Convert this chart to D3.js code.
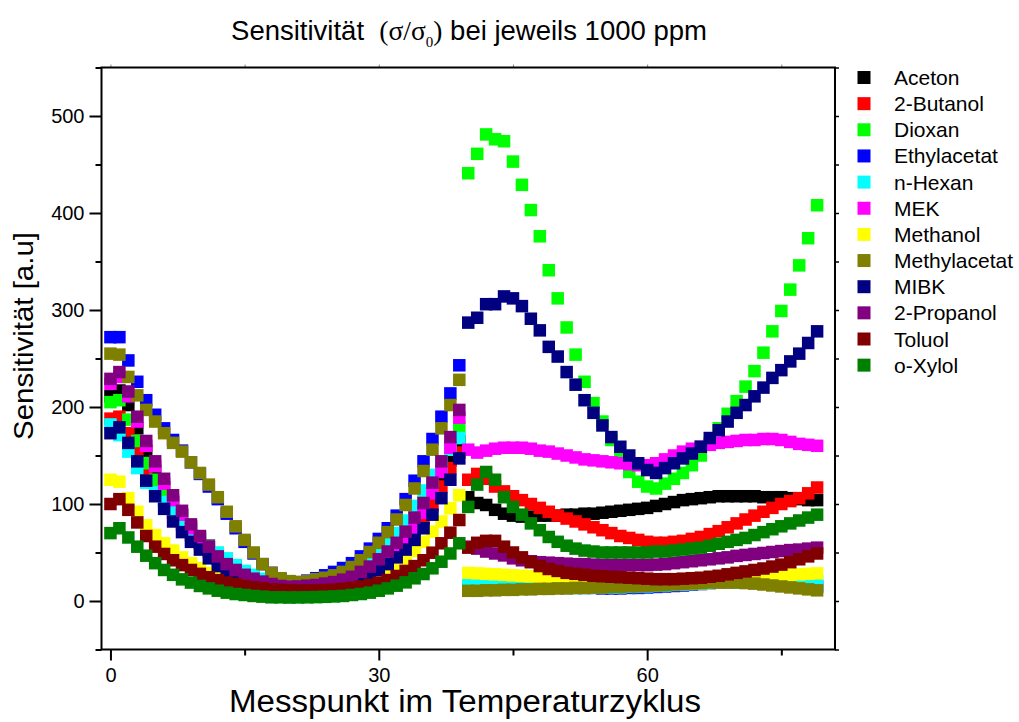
<!DOCTYPE html>
<html><head><meta charset="utf-8">
<script src="https://cdn.jsdelivr.net/npm/d3@7/dist/d3.min.js"></script>
<style>
body{margin:0;background:#fff}
svg{display:block}
text{font-family:"Liberation Sans",Arial,Helvetica,sans-serif;fill:#000}
</style>
</head><body>
<svg id="chart" width="1019" height="722"></svg>
<script>
// ---------- data ----------
const seriesNames = ["Aceton","2-Butanol","Dioxan","Ethylacetat","n-Hexan","MEK","Methanol","Methylacetat","MIBK","2-Propanol","Toluol","o-Xylol"];
const seriesColors = ["#000000","#ff0000","#00ff00","#0000ff","#00ffff","#ff00ff","#ffff00","#808000","#000080","#800080","#800000","#008000"];
const xTicksMajor = [0,30,60];
const xTicksMinor = [15,45,75];
const yTicksMajor = [0,100,200,300,400,500];
const yTicksMinor = [-50,50,150,250,350,450,550];

const aceton = [211,217,202,178,155,134,117,102,89,77, 66,57,49,42,36,30,26,22,19,17, 16,16,16.5,17.5,19,21,24,28,33,39, 46,54,63,73,85,98,112,126,145,165,
  107,101,99,94,90,88,87,87,88,88, 88,89,89,90,90,91,92,93,94,95, 96,98,100,102,104,105,106,107,108,108, 108,108,108,107,107,107,106,105,104,104];
const butanol2 = [188,190,173,153,135,119,104,91,79,68, 59,51,44,38,32,27,23,20,17.5,15.5, 14.5,14,14.5,15,16,17.5,19.5,22,26,30, 36,42,50,59,70,83,99,118,137,153,
  125,131,126,118,113,108,104,100,96,92, 88,85,82,79,76,73,70,67,65,63, 61,60,60,61,62,64,66,69,72,76, 80,84,88,92,96,100,103,106,111,117];
const dioxan = [205,207,187,165,142,125,110,97,85,74, 64,55,47,40,34,29,25,21,18,16, 15,15,16,17,19,22,25,29,34,40, 47,55,64,75,88,102,118,136,156,179,
  441,461,481,476,474,453,429,403,376,341, 312,282,254,226,204,185,166,149,133,123, 118,116,121,126,132,140,150,163,178,193, 206,221,237,256,278,299,321,346,374,408];
const ethylacetat = [272,272,248,226,207,192,178,166,155,143, 131,118,105,90,75,61,49,38,29,23, 20,19.5,21,23.5,26.5,30,34,39,46,54, 64,75,88,105,124,144,167,190,214,243,
  12,12,12.5,12.5,13,13,13,13.5,13.5,13.5, 13.5,13.5,13.5,13.5,13.5,13,13,13,13.5,13.5, 14,14.5,15,15.5,16,17,17.5,18.5,19,19.5, 19.5,19,18.5,18,17.5,17,16.5,16,15.5,15];
const nHexan = [182,171,154,137,122,112,102,93,83,73, 64,56,50,44,37,31,27,23,20,18, 17,17,18,20,22,25,29,33,38,44, 51,59,70,83,98,114,130,143,156,168,
  18,17.5,17,16.5,16,15.5,15,14.5,14,14, 13.5,13.5,13.5,13.5,14,14,14,14,14.5,14.5, 15,15.5,16,16.5,17,17.5,18,18.5,19,19, 19,19,19,19,19,19.5,19.5,20,20,20];
const mek = [224,231,211,185,160,139,121,104,89,75, 63,53,43,35,29,24,20,17.5,15,13.5, 12.5,12.5,13,14,15,16.5,18.5,21.5,26,31, 38,45,53,62,74,91,111,133,158,189,
  156,153,155,157,158,158,158,157,155,154, 152,150,148,146,145,144,143,142,141,140, 140,142,146,150,154,157,159,161,163,164, 165,166,166,167,167,166,164,162,161,160];
const methanol = [125,123,106,92,78,68,59.5,52,45,39, 34,29,25,22.5,20,17.5,15.5,14,12.5,11.5, 11,11,11.5,12,12.5,13.5,14.5,16,18,20, 24,29,35.5,43,51.5,61,71.5,82,95.5,109,
  29,28.5,28,27.5,27,26.5,26,25.5,25,24.5, 24,23,22,21,20,19,18.5,18,17.5,17, 17,17,17,17,17.5,18,18.5,19,19.5,20, 21,22,23,24,25,26,27,27.5,28,28.5];
const methylacetat = [255,254,231,212,197,185,173,163,154,143, 132,120,107,92,77,63,50,38,29,23.5, 20.5,19.5,20.5,22.5,24,26.5,30,35,42,50.5, 60,71,84,99,116,134,156,178,202,228,
  10.5,10.5,11,11,11.5,11.5,12,12,12.5,12.5, 13,13,13.5,13.5,14,14,14.5,14.5,15,15, 15.5,16,16.5,17,17.5,18,18.5,19,19,19, 19,18.5,18,17,16,15,14,13,12,11];
const mibk = [173,179,163,144,124,108,95,82,71,61, 53,44,36,29,24,20,17.5,15.5,14,13, 12.5,12.5,13,13.5,14.5,16,18,20,23.5,27, 32,38,45,53,63,75,89,106,125,147,
  287,292,306,306,314,312,304,291,279,262, 252,236,223,207,194,181,169,159,150,142, 135,132,137,142,147,152,159,168,176,185, 194,202,211,220,230,238,247,255,266,278];
const propanol2 = [229,236,216,190,165,144,126,109,93,79, 67,56,46,38,32,27,23,20,17.5,15.5, 14.7,15,15.8,16.5,18,19.5,22,25,30,35.5, 43,51,60,71.5,86,101,122,144,169,197,
  56,54,51,49,47,44,42,41,40,39.5, 39,38.5,38,38,37.5,37,37,37,37,37, 37,37.5,38,39,40,41,42,43,44,45, 46.5,47.5,48.5,49.5,50.5,51.5,52.5,53,54,55];
const toluol = [100,105,94,81,67,56,48.5,42,37,32, 28,24.5,21.5,19,17.5,15.5,14,13,12,11.5, 11,10.8,10.8,11,11.3,11.8,12.5,13.5,15,16.5, 19,21.6,25.8,31,36,42,49.8,59.5,70.4,83.5,
  55,60,62,62,56,50,45,40,36,33, 31,29,28,27,26,25.5,25,24.5,24,23.5, 23,22.5,22.5,22.5,23,23.5,24,25,26,27.5, 29,30.5,32,33.5,35.5,37.5,40,43,46,49];
const oXylol = [70,75,65.5,56,46.7,39,32,27,22.3,19, 15.5,13,10.6,8.6,7.2,6.2,5.2,4.5,3.8,3.8, 3.6,3.7,3.8,4,4.3,4.7,5.2,6.2,7.2,8.6, 10.6,13,15.8,19.2,23.4,27.8,33.7,40.5,49,59.5,
  97,120,133,125,107,97,89,80,73,66, 61,57,54,52,51,50,50,50,50,50, 50,51,51,52,53,54,55,57,59,61, 63,65,68,71,74,77,80,83,86,89];

const seriesValues = [aceton,butanol2,dioxan,ethylacetat,nHexan,mek,methanol,methylacetat,mibk,propanol2,toluol,oXylol];
const series = seriesNames.map((name,i)=>({name, color:seriesColors[i], values:seriesValues[i].map((v,j)=>({x:j,y:v}))}));

// ---------- layout ----------
const svg = d3.select("#chart");
const L = 101.5, R = 835, T = 67.5, B = 649.5;
const x = d3.scaleLinear().domain([-1,81]).range([L,R]);
const y = d3.scaleLinear().domain([-50,550]).range([B,T]);
const ms = 12.5;

// markers
const gData = svg.append("g");
series.forEach(s=>{
  gData.append("g").selectAll("rect").data(s.values).join("rect")
    .attr("x",d=>x(d.x)-ms/2).attr("y",d=>y(d.y)-ms/2)
    .attr("width",ms).attr("height",ms).attr("fill",s.color);
});

// axes
function styleAxis(g){ g.select(".domain").remove(); g.selectAll("line").attr("stroke","#000").attr("stroke-width",2); g.selectAll("text").style("font-size","20px").attr("font-family","Liberation Sans, Arial, sans-serif"); }
svg.append("g").attr("transform",`translate(0,${B})`)
  .call(d3.axisBottom(x).tickValues(xTicksMajor).tickSize(11).tickPadding(7).tickFormat(d3.format("d"))).call(styleAxis);
svg.append("g").attr("transform",`translate(0,${B})`)
  .call(d3.axisBottom(x).tickValues(xTicksMinor).tickSize(6).tickFormat("")).call(styleAxis);
svg.append("g").attr("transform",`translate(${L},0)`)
  .call(d3.axisLeft(y).tickValues(yTicksMajor).tickSize(12).tickPadding(5).tickFormat(d3.format("d"))).call(styleAxis);
svg.append("g").attr("transform",`translate(${L},0)`)
  .call(d3.axisLeft(y).tickValues(yTicksMinor).tickSize(6).tickFormat("")).call(styleAxis);
svg.append("g").attr("transform",`translate(0,${T})`)
  .call(d3.axisTop(x).tickValues(xTicksMajor.concat(xTicksMinor)).tickSize(3).tickFormat("")).call(g=>{g.select(".domain").remove(); g.selectAll("line").attr("stroke","#888").attr("stroke-width",1);});
svg.append("g").attr("transform",`translate(${R},0)`)
  .call(d3.axisRight(y).tickValues(yTicksMajor.concat(yTicksMinor)).tickSize(4).tickFormat("")).call(g=>{g.select(".domain").remove(); g.selectAll("line").attr("stroke","#000").attr("stroke-width",1.5);});

// frame
svg.append("rect").attr("x",L).attr("y",T).attr("width",R-L).attr("height",B-T)
  .attr("fill","none").attr("stroke","#000").attr("stroke-width",2);

// title
const title = svg.append("text").attr("x",469).attr("y",40).attr("text-anchor","middle").style("font-size","27.5px");
title.append("tspan").text("Sensitivität\u00a0 ");
title.append("tspan").attr("font-family","Liberation Serif, Times New Roman, serif").text("(σ/σ");
title.append("tspan").attr("font-family","Liberation Serif, serif").style("font-size","15px").attr("dy",7).text("0");
title.append("tspan").attr("font-family","Liberation Serif, serif").attr("dy",-7).text(")");
title.append("tspan").text(" bei jeweils 1000 ppm");

// axis titles
svg.append("text").attr("x",465).attr("y",712).attr("text-anchor","middle").style("font-size","31px")
  .attr("textLength",472).attr("lengthAdjust","spacingAndGlyphs").text("Messpunkt im Temperaturzyklus");
svg.append("text").attr("transform","translate(33,336) rotate(-90)").attr("text-anchor","middle").style("font-size","28px")
  .attr("textLength",208).attr("lengthAdjust","spacingAndGlyphs").text("Sensitivität [a.u]");

// legend
const lg = svg.append("g");
series.forEach((s,i)=>{
  const cy = 77.5 + i*26.15;
  lg.append("rect").attr("x",857.5).attr("y",cy-6.5).attr("width",13).attr("height",13).attr("fill",s.color);
  lg.append("text").attr("x",894).attr("y",cy+7.5).style("font-size","21px").text(s.name);
});
</script>
</body></html>
